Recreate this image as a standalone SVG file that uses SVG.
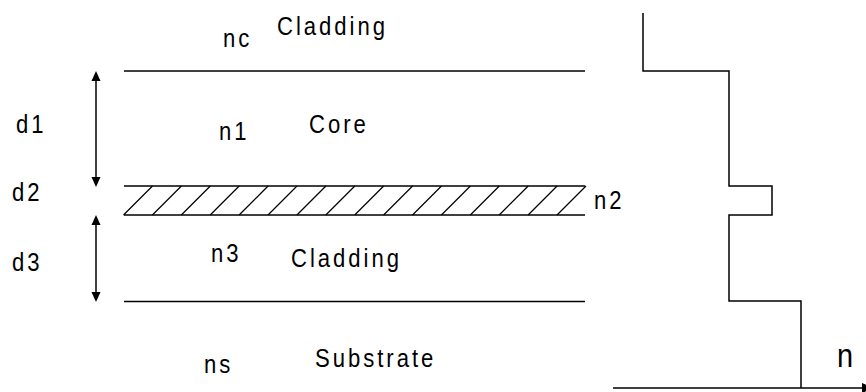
<svg xmlns="http://www.w3.org/2000/svg" width="866" height="392" viewBox="0 0 866 392">
<style>
.ln{stroke:#000;stroke-width:1.5;fill:none}
.hatch{stroke:#000;stroke-width:1.2;fill:none}
.ah{fill:#000;stroke:none}
.t{font-family:"Liberation Sans",Arial,sans-serif;font-size:26px;letter-spacing:3.5px;fill:#000}
.big{font-size:34px;letter-spacing:0}
</style>
<rect width="866" height="392" fill="#fff"/>
<g id="layers">
  <g id="top-boundary"><line class="ln" x1="124" y1="71" x2="585" y2="71"/></g>
  <g id="hatched-layer">
    <line class="ln" x1="124" y1="186" x2="585" y2="186"/>
    <line class="ln" x1="124" y1="215" x2="585" y2="215"/>
    <path class="hatch" d="M123.5,215L152.5,186M152.4,215L181.4,186M181.3,215L210.3,186M210.2,215L239.2,186M239.1,215L268.1,186M268,215L297,186M296.9,215L325.9,186M325.8,215L354.8,186M354.7,215L383.7,186M383.6,215L412.6,186M412.5,215L441.5,186M441.4,215L470.4,186M470.3,215L499.3,186M499.2,215L528.2,186M528.1,215L557.1,186M557,215L586,186"/>
  </g>
  <g id="bottom-boundary"><line class="ln" x1="124" y1="301.5" x2="585" y2="301.5"/></g>
</g>
<g id="labels">
  <text class="t" transform="translate(223,47) scale(0.85,1)">nc</text>
  <text class="t" transform="translate(277,35) scale(0.85,1)">Cladding</text>
  <text class="t" transform="translate(219,140) scale(0.85,1)">n1</text>
  <text class="t" transform="translate(309,133) scale(0.85,1)">Core</text>
  <text class="t" transform="translate(594,209) scale(0.85,1)">n2</text>
  <text class="t" transform="translate(211,262) scale(0.85,1)">n3</text>
  <text class="t" transform="translate(291,267) scale(0.85,1)">Cladding</text>
  <text class="t" transform="translate(204,373) scale(0.85,1)">ns</text>
  <text class="t" transform="translate(315,367) scale(0.85,1)">Substrate</text>
  <text class="t" transform="translate(16,133) scale(0.85,1)">d1</text>
  <text class="t" transform="translate(12,201) scale(0.85,1)">d2</text>
  <text class="t" transform="translate(12,271) scale(0.85,1)">d3</text>
  <text class="t big" transform="translate(837,367) scale(0.85,1)">n</text>
</g>
<g id="connectors">
  <g id="d1-arrow">
    <line class="ln" x1="96" y1="78" x2="96" y2="180"/>
    <polygon class="ah" points="96,71 91.5,81 100.5,81"/>
    <polygon class="ah" points="96,187 91.5,177 100.5,177"/>
  </g>
  <g id="d3-arrow">
    <line class="ln" x1="96" y1="222" x2="96" y2="295"/>
    <polygon class="ah" points="96,215 91.5,225 100.5,225"/>
    <polygon class="ah" points="96,302 91.5,292 100.5,292"/>
  </g>
  <g id="index-profile">
    <path class="ln" d="M643,13V71H729V186H772V215H729V301H801V388"/>
  </g>
  <g id="n-axis">
    <line class="ln" x1="613" y1="388" x2="864" y2="388"/>
    <polygon class="ah" points="862,383 874,388 862,393"/>
  </g>
</g>
</svg>
